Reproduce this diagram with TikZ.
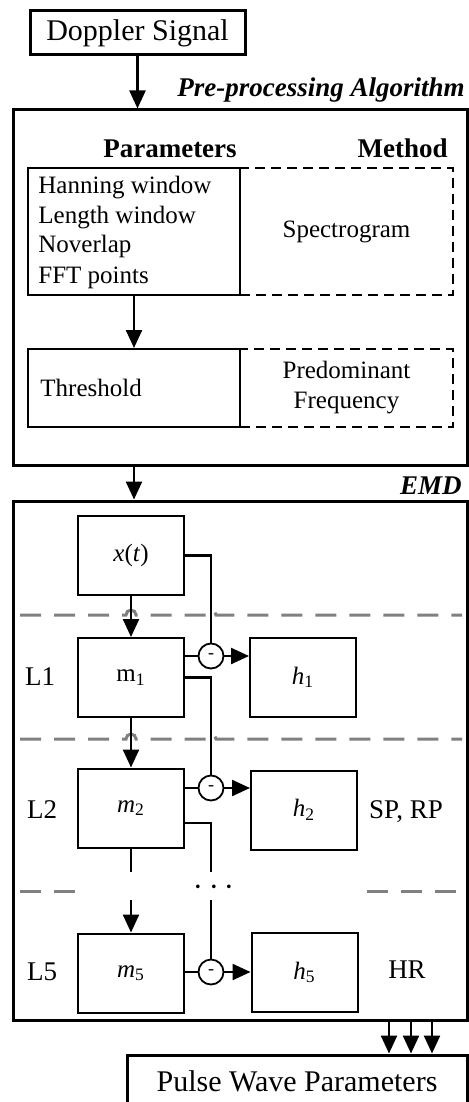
\documentclass[tikz,border=0pt]{standalone}
\usepackage{fontspec}
\setmainfont{Liberation Serif}
\usepackage{tikz}
\usetikzlibrary{arrows.meta,positioning,calc}
\definecolor{sepgray}{RGB}{128,128,128}

\begin{document}
\begin{tikzpicture}[x=0.5pt,y=-0.5pt,
  bigbox/.style={draw,line width=1.5pt,inner sep=0pt},
  parbox/.style={draw,line width=1pt,inner sep=0pt,minimum width=106pt},
  dashbox/.style={parbox,dash pattern=on 5pt off 3pt},
  blk/.style={draw,line width=1pt,inner sep=0pt,minimum width=53pt,
              minimum height=39.5pt,font=\fontsize{12.5}{15}\selectfont},
  subnode/.style={circle,draw,line width=0.9pt,fill=white,minimum size=12.5pt,
              inner sep=0pt,font=\fontsize{9}{9}\selectfont},
  arr/.style={line width=1.2pt,-{Triangle[length=9pt,width=8pt]}},
  wire/.style={line width=1.2pt},
  sepline/.style={sepgray,line width=1.5pt,dash pattern=on 10.5pt off 6.5pt},
  lvl/.style={font=\fontsize{13.5}{16}\selectfont},
  txt/.style={font=\fontsize{12.5}{15}\selectfont,inner sep=0pt}]
\useasboundingbox (0,0) rectangle (469,1102);
%% Input and pre-processing
\node[bigbox,minimum width=107.5pt,minimum height=22pt,
      font=\fontsize{15}{18}\selectfont] (dop) at (137.5,33) {Doppler Signal};
\node[bigbox,minimum width=227pt,minimum height=177.5pt] (pre) at (240,287.5) {};
\node[anchor=base east,inner sep=0pt,font=\fontsize{13.5}{16}\selectfont\bfseries\itshape]
      (prelbl) at (465,97) {Pre-processing Algorithm};
\node[anchor=base,inner sep=0pt,font=\fontsize{13.5}{16}\selectfont\bfseries]
      (parhd) at (170,157) {Parameters};
\node[anchor=base east,inner sep=0pt,font=\fontsize{13.5}{16}\selectfont\bfseries]
      (methd) at (448,157) {Method};
\node[parbox,minimum height=63.5pt] (par) at (134,231.5) {};
\node[dashbox,minimum width=106.5pt,minimum height=63.5pt] (met) at (346.5,231.5) {};
\node[txt,anchor=base west] (p1) at (38,193) {Hanning window};
\node[txt,anchor=base west] (p2) at (38,223) {Length window};
\node[txt,anchor=base west] (p3) at (38,252) {Noverlap};
\node[txt,anchor=base west] (p4) at (38,283) {FFT points};
\node[txt] (spec) at (met) {Spectrogram};
\node[parbox,minimum height=39pt] (thr) at (134,388) {};
\node[dashbox,minimum width=106.5pt,minimum height=39pt] (pdf) at (346.5,388) {};
\node[txt,anchor=west] (thrtxt) at (40,388) {Threshold};
\node[txt,align=center] (pdftxt) at (pdf) {Predominant\\Frequency};
%% EMD block
\node[bigbox,minimum width=227pt,minimum height=259.5pt] (emd) at (240,760.5) {};
\node[anchor=base east,inner sep=0pt,font=\fontsize{13.5}{16}\selectfont\bfseries\itshape]
      (emdlbl) at (462,494) {EMD};
\draw[sepline] (20,615) -- (126,615) arc[start angle=180,end angle=0,radius=2.5pt]
  -- (206,615) arc[start angle=180,end angle=0,radius=2.5pt] -- (462,615);
\draw[sepline] (20,739) -- (126,739) arc[start angle=180,end angle=0,radius=2.5pt]
  -- (206,739) arc[start angle=180,end angle=0,radius=2.5pt] -- (462,739);
\draw[sepline] (20,891) -- (78,891);
\draw[sepline] (367,891) -- (462,891);
\node[blk] (xt) at (131,555.5) {\textit{x}(\textit{t})};
\node[blk] (m1) at (131,677.5) {m\textsubscript{1}};
\node[blk] (h1) at (303,677.5) {\textit{h}\textsubscript{1}};
\node[blk] (m2) at (131,808) {\textit{m}\textsubscript{2}};
\node[blk] (h2) at (304,810) {\textit{h}\textsubscript{2}};
\node[blk] (m5) at (131,973) {\textit{m}\textsubscript{5}};
\node[blk] (h5) at (304.5,972.5) {\textit{h}\textsubscript{5}};
\node[subnode] (c1) at (211,656) {-};
\node[subnode] (c2) at (211,788) {-};
\node[subnode] (c3) at (211,972) {-};
\node[lvl] (l1) at (40,677) {L1};
\node[lvl] (l2) at (42,810) {L2};
\node[lvl] (l5) at (42,972) {L5};
\node[lvl] (sprp) at (406,812) {SP, RP};
\node[lvl] (hr) at (407,970) {HR};
\node[inner sep=0pt,font=\fontsize{17}{17}\selectfont] (dots) at (214,888) {$\cdots$};
\coordinate (brk1) at (131,872);
\coordinate (brk2) at (211,872);
\coordinate (cont1) at (131,900);
\coordinate (cont2) at (211,900);
%% Output
\node[bigbox,minimum width=170pt,minimum height=26pt,
      font=\fontsize{15}{18}\selectfont] (pwp) at (297,1081) {Pulse Wave Parameters};
%% Connectors
\draw[arr] (dop.south) -- (pre.north -| dop.south);
\draw[arr] (par.south) -- (thr.north);
\draw[arr] (pre.south -| thr.south) -- (emd.north -| thr.south);
\draw[arr] (xt.south) -- (m1.north);
\draw[arr] (m1.south) -- (m2.north);
\draw[wire] (m2.south) -- (brk1);
\draw[arr] (cont1) -- (m5.north);
\draw[wire] (xt.east) -| (c1.north);
\draw[wire] (m1.east |- c1) -- (c1.west);
\draw[arr] (c1.east) -- (h1.west |- c1);
\draw[wire] (m1.east) -| (c2.north);
\draw[wire] (m2.east |- c2) -- (c2.west);
\draw[arr] (c2.east) -- (h2.west |- c2);
\draw[wire] ($(m2.east)+(0,15)$) -| (brk2);
\draw[wire] (cont2) -- (c3.north);
\draw[wire] (m5.east |- c3) -- (c3.west);
\draw[arr] (c3.east) -- (h5.west |- c3);
\foreach \x in {389,411,432}
  \draw[arr] (emd.south -| \x,0) -- (pwp.north -| \x,0);
\end{tikzpicture}
\end{document}
